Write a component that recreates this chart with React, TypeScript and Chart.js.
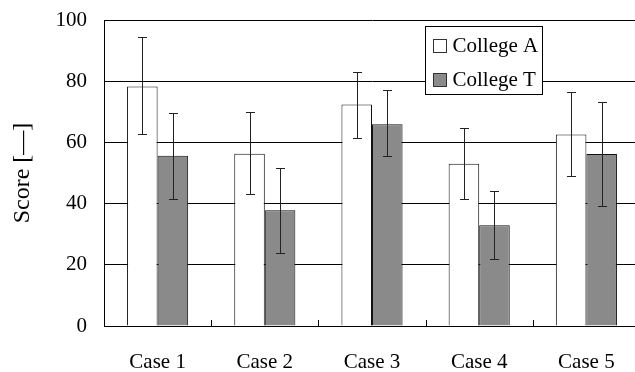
import React, { useEffect, useRef } from "react";
import { Chart, registerables } from "chart.js";

Chart.register(...registerables);

const categories = ["Case 1", "Case 2", "Case 3", "Case 4", "Case 5"];
const seriesNames = ["College A", "College T"];
const collegeA = [78.3, 56.3, 72.4, 53.0, 62.6];
const collegeAHigh = [94.3, 70.0, 82.9, 64.6, 76.5];
const collegeALow = [62.6, 43.0, 61.4, 41.6, 49.0];
const collegeT = [55.6, 37.8, 65.9, 32.9, 56.2];
const collegeTHigh = [69.5, 51.6, 77.0, 44.2, 73.2];
const collegeTLow = [41.6, 23.7, 55.4, 21.9, 39.2];
const yTicks = [0, 20, 40, 60, 80, 100];

const FONT = "'Liberation Serif', 'Times New Roman', serif";
const fillA = "#ffffff";
const fillT = "#8a8a8a";

const errorBars = {
  id: "errorBars",
  afterDatasetsDraw(chart: any) {
    const { ctx } = chart;
    const y = chart.scales.y;
    const highs = [collegeAHigh, collegeTHigh];
    const lows = [collegeALow, collegeTLow];
    ctx.save();
    ctx.strokeStyle = "#222";
    ctx.lineWidth = 1;
    chart.data.datasets.forEach((_: any, di: number) => {
      const meta = chart.getDatasetMeta(di);
      meta.data.forEach((bar: any, i: number) => {
        const x = Math.round(bar.x) + 0.5;
        const yh = Math.round(y.getPixelForValue(highs[di][i])) + 0.5;
        const yl = Math.round(y.getPixelForValue(lows[di][i])) + 0.5;
        ctx.beginPath();
        ctx.moveTo(x, yh);
        ctx.lineTo(x, yl);
        ctx.moveTo(x - 4.5, yh);
        ctx.lineTo(x + 4.5, yh);
        ctx.moveTo(x - 4.5, yl);
        ctx.lineTo(x + 4.5, yl);
        ctx.stroke();
      });
    });
    const xs = chart.scales.x;
    const bottom = chart.chartArea.bottom;
    ctx.strokeStyle = "#000";
    for (let i = 1; i < categories.length; i++) {
      const bx = Math.round((xs.getPixelForValue(i - 1) + xs.getPixelForValue(i)) / 2) + 0.5;
      ctx.beginPath();
      ctx.moveTo(bx, bottom);
      ctx.lineTo(bx, bottom - 6);
      ctx.stroke();
    }
    ctx.restore();
  },
};

const boxLegend = {
  id: "boxLegend",
  afterDraw(chart: any) {
    const { ctx, chartArea } = chart;
    const left = Math.round(chartArea.left + 321) + 0.5;
    const top = Math.round(chartArea.top + 6) + 0.5;
    const w = 117;
    const h = 68;
    ctx.save();
    ctx.fillStyle = "#fff";
    ctx.fillRect(left, top, w, h);
    ctx.strokeStyle = "#000";
    ctx.lineWidth = 1;
    ctx.strokeRect(left, top, w, h);
    ctx.font = `21px ${FONT}`;
    ctx.textBaseline = "middle";
    chart.data.datasets.forEach((ds: any, i: number) => {
      const cy = top + 19 + i * 33.5;
      const sy = Math.round(cy - 6.5) + 0.5;
      ctx.fillStyle = ds.backgroundColor;
      ctx.fillRect(left + 8, sy, 13, 13);
      ctx.strokeStyle = "#333";
      ctx.strokeRect(left + 8, sy, 13, 13);
      ctx.fillStyle = "#000";
      ctx.fillText(ds.label, left + 27, cy + 1);
    });
    ctx.restore();
  },
};

export default function App() {
  const ref = useRef<HTMLCanvasElement | null>(null);
  useEffect(() => {
    if (!ref.current) return;
    const chart = new Chart(ref.current, {
      type: "bar",
      data: {
        labels: categories,
        datasets: [
          {
            label: seriesNames[0],
            data: collegeA,
            backgroundColor: fillA,
            borderColor: "#111",
            borderWidth: 1,
            categoryPercentage: 0.57,
            barPercentage: 1.0,
          },
          {
            label: seriesNames[1],
            data: collegeT,
            backgroundColor: fillT,
            borderColor: "#111",
            borderWidth: 1,
            categoryPercentage: 0.57,
            barPercentage: 1.0,
          },
        ],
      },
      options: {
        responsive: false,
        animation: false,
        layout: { padding: { top: 20, right: 0, left: 0, bottom: 0 } },
        plugins: {
          legend: { display: false },
          tooltip: { enabled: false },
        },
        scales: {
          x: {
            grid: { display: false },
            border: { display: true, color: "#000", width: 1 },
            ticks: {
              color: "#000",
              font: { family: FONT, size: 21 },
              padding: 16,
            },
            afterFit(scale: any) {
              scale.height = 46;
              scale.paddingLeft = 0;
              scale.paddingRight = 0;
            },
          },
          y: {
            min: 0,
            max: 100,
            afterBuildTicks(scale: any) {
              scale.ticks = yTicks.map((v) => ({ value: v }));
            },
            grid: { color: "#000", lineWidth: 1, drawTicks: false },
            border: { display: true, color: "#000", width: 1 },
            ticks: {
              color: "#000",
              font: { family: FONT, size: 21 },
              padding: 17,
            },
            title: {
              display: true,
              text: "Score [—]",
              color: "#000",
              font: { family: FONT, size: 24, lineHeight: 1.2 },
              padding: { top: 8, bottom: 0 },
            },
            afterFit(scale: any) {
              scale.width = 104;
              scale.paddingTop = 0;
              scale.paddingBottom = 0;
            },
          },
        },
      },
      plugins: [errorBars, boxLegend],
    });
    return () => chart.destroy();
  }, []);
  return (
    <div
      style={{
        position: "fixed",
        left: 0,
        top: 0,
        width: 635,
        height: 372,
        overflow: "hidden",
        background: "#fff",
      }}
    >
      <canvas ref={ref} width={640} height={372} style={{ display: "block" }} />
    </div>
  );
}
